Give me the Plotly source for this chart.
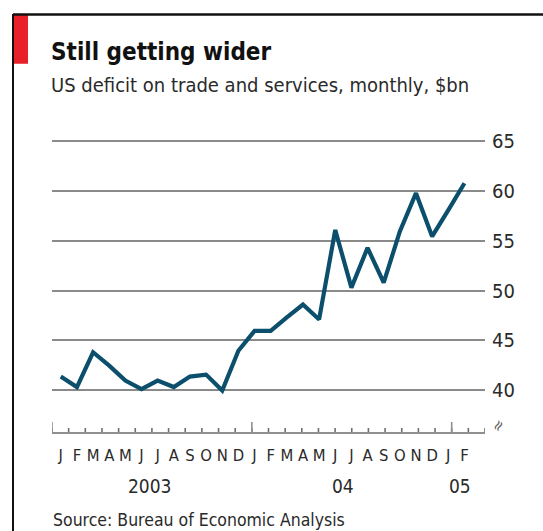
import plotly.graph_objects as go

W, H = 543, 531

# ---- data ----
months = ["J", "F", "M", "A", "M", "J", "J", "A", "S", "O", "N", "D",
          "J", "F", "M", "A", "M", "J", "J", "A", "S", "O", "N", "D",
          "J", "F"]
year_labels = ["2003", "04", "05"]
year_pos = [6, 18, 25.2]
deficit = [41.35, 40.3, 43.8, 42.45, 40.95, 40.1, 40.95, 40.3, 41.35, 41.55, 39.95, 43.95,
           45.95, 45.95, 47.3, 48.6, 47.1, 56.1, 50.3, 54.3, 50.8, 55.95, 59.8, 55.45,
           58.1, 60.8]
y_ticks = [40, 45, 50, 55, 60, 65]
month_bounds = list(range(0, 27))
year_bounds = [0, 12, 24]

def px(x):
    return x / W

def py(y):
    return 1 - y / H

xpos = [i + 0.5 for i in range(len(deficit))]

FONT = "DejaVu Sans Condensed, Liberation Sans Narrow, Noto Sans, sans-serif"
LINE = "#0b4f6c"
GRID = "#8a8a8a"
TXT = "#2a2a2a"
AX = "#8f8f8f"
TICK = "#6f6f6f"

scale = (472.5 - 52.7) / 26.0
x0 = -(52.7 - 52) / scale
x1 = 26 + (485 - 472.5) / scale
yscale = (389.5 - 140) / 25.0
ytop = 65 + (140 - 130) / yscale
ybot = 40 - (432.5 - 389.5) / yscale

fig = go.Figure()
# tick marks on the time axis (drawn as upward error bars from the axis line)
fig.add_trace(go.Scatter(x=month_bounds, y=[ybot] * len(month_bounds),
                         xaxis="x2", yaxis="y", mode="markers",
                         marker=dict(size=1, color="rgba(0,0,0,0)"),
                         error_y=dict(type="data", symmetric=False,
                                      array=[5 / yscale] * len(month_bounds),
                                      arrayminus=[0] * len(month_bounds),
                                      color=TICK, thickness=1.6, width=0),
                         cliponaxis=False, hoverinfo="skip", showlegend=False))
fig.add_trace(go.Scatter(x=year_bounds, y=[ybot] * len(year_bounds),
                         xaxis="x2", yaxis="y", mode="markers",
                         marker=dict(size=1, color="rgba(0,0,0,0)"),
                         error_y=dict(type="data", symmetric=False,
                                      array=[11 / yscale] * len(year_bounds),
                                      arrayminus=[0] * len(year_bounds),
                                      color=AX, thickness=1.6, width=0),
                         cliponaxis=False, hoverinfo="skip", showlegend=False))
fig.add_trace(go.Scatter(x=xpos, y=deficit, mode="lines",
                         line=dict(color=LINE, width=4.2), hoverinfo="skip",
                         showlegend=False))

fig.update_layout(
    width=W, height=H,
    margin=dict(l=0, r=0, t=0, b=0),
    paper_bgcolor="white", plot_bgcolor="white",
    font=dict(family=FONT, color=TXT),
    xaxis=dict(domain=[px(52), px(485)], range=[x0, x1],
               tickvals=xpos, ticktext=months, showgrid=False,
               zeroline=False, showline=False, ticks="",
               tickfont=dict(size=16.5, color=TXT), ticklabelstandoff=11),
    xaxis2=dict(domain=[px(52.7), px(472.5)], range=[0, 26],
                anchor="free", position=py(432.5), overlaying="x",
                showticklabels=False, showgrid=False, zeroline=False,
                ticks="", showline=True, linecolor=AX, linewidth=1.6),
    yaxis=dict(domain=[py(432.5), py(130)], range=[ybot, ytop], side="right",
               tickvals=y_ticks, showgrid=True, gridcolor=GRID, gridwidth=1.8,
               zeroline=False, showline=False, ticks="", ticklabelstandoff=6,
               tickfont=dict(size=20, color=TXT)),
)

ann = []
ann.append(dict(text="<b>Still getting wider</b>", x=px(49), y=py(50),
                xref="paper", yref="paper", xanchor="left", yanchor="middle",
                showarrow=False, font=dict(size=24, color="#111111", family=FONT)))
ann.append(dict(text="US deficit on trade and services, monthly, $bn", x=px(49), y=py(83),
                xref="paper", yref="paper", xanchor="left", yanchor="middle",
                showarrow=False, font=dict(size=20, color=TXT, family=FONT)))
for lab, pos in zip(year_labels, year_pos):
    ann.append(dict(text=lab, x=pos, y=py(486), xref="x", yref="paper",
                    xanchor="center", yanchor="middle", showarrow=False,
                    font=dict(size=19, color=TXT, family=FONT)))
ann.append(dict(text="Source: Bureau of Economic Analysis", x=px(51), y=py(520),
                xref="paper", yref="paper", xanchor="left", yanchor="middle",
                showarrow=False, font=dict(size=17.5, color=TXT, family=FONT)))
ann.append(dict(text="≈", x=px(498), y=py(425), xref="paper", yref="paper",
                xanchor="center", yanchor="middle", showarrow=False, textangle=-60,
                font=dict(size=16, color="#666666", family=FONT)))
fig.update_layout(annotations=ann)

shapes = [
    dict(type="rect", xref="paper", yref="paper", x0=px(13), x1=px(28),
         y0=py(62), y1=py(13), fillcolor="#e8202a", line=dict(width=0)),
    dict(type="line", xref="paper", yref="paper", x0=px(13), x1=1,
         y0=py(12.5), y1=py(12.5), line=dict(color="#111111", width=2.5)),
    dict(type="line", xref="paper", yref="paper", x0=px(13), x1=px(13),
         y0=py(12), y1=0, line=dict(color="#111111", width=2)),
]
fig.update_layout(shapes=shapes)

fig.write_html("out.html", post_script="document.body.style.margin='0';",
               config={"displayModeBar": False})
